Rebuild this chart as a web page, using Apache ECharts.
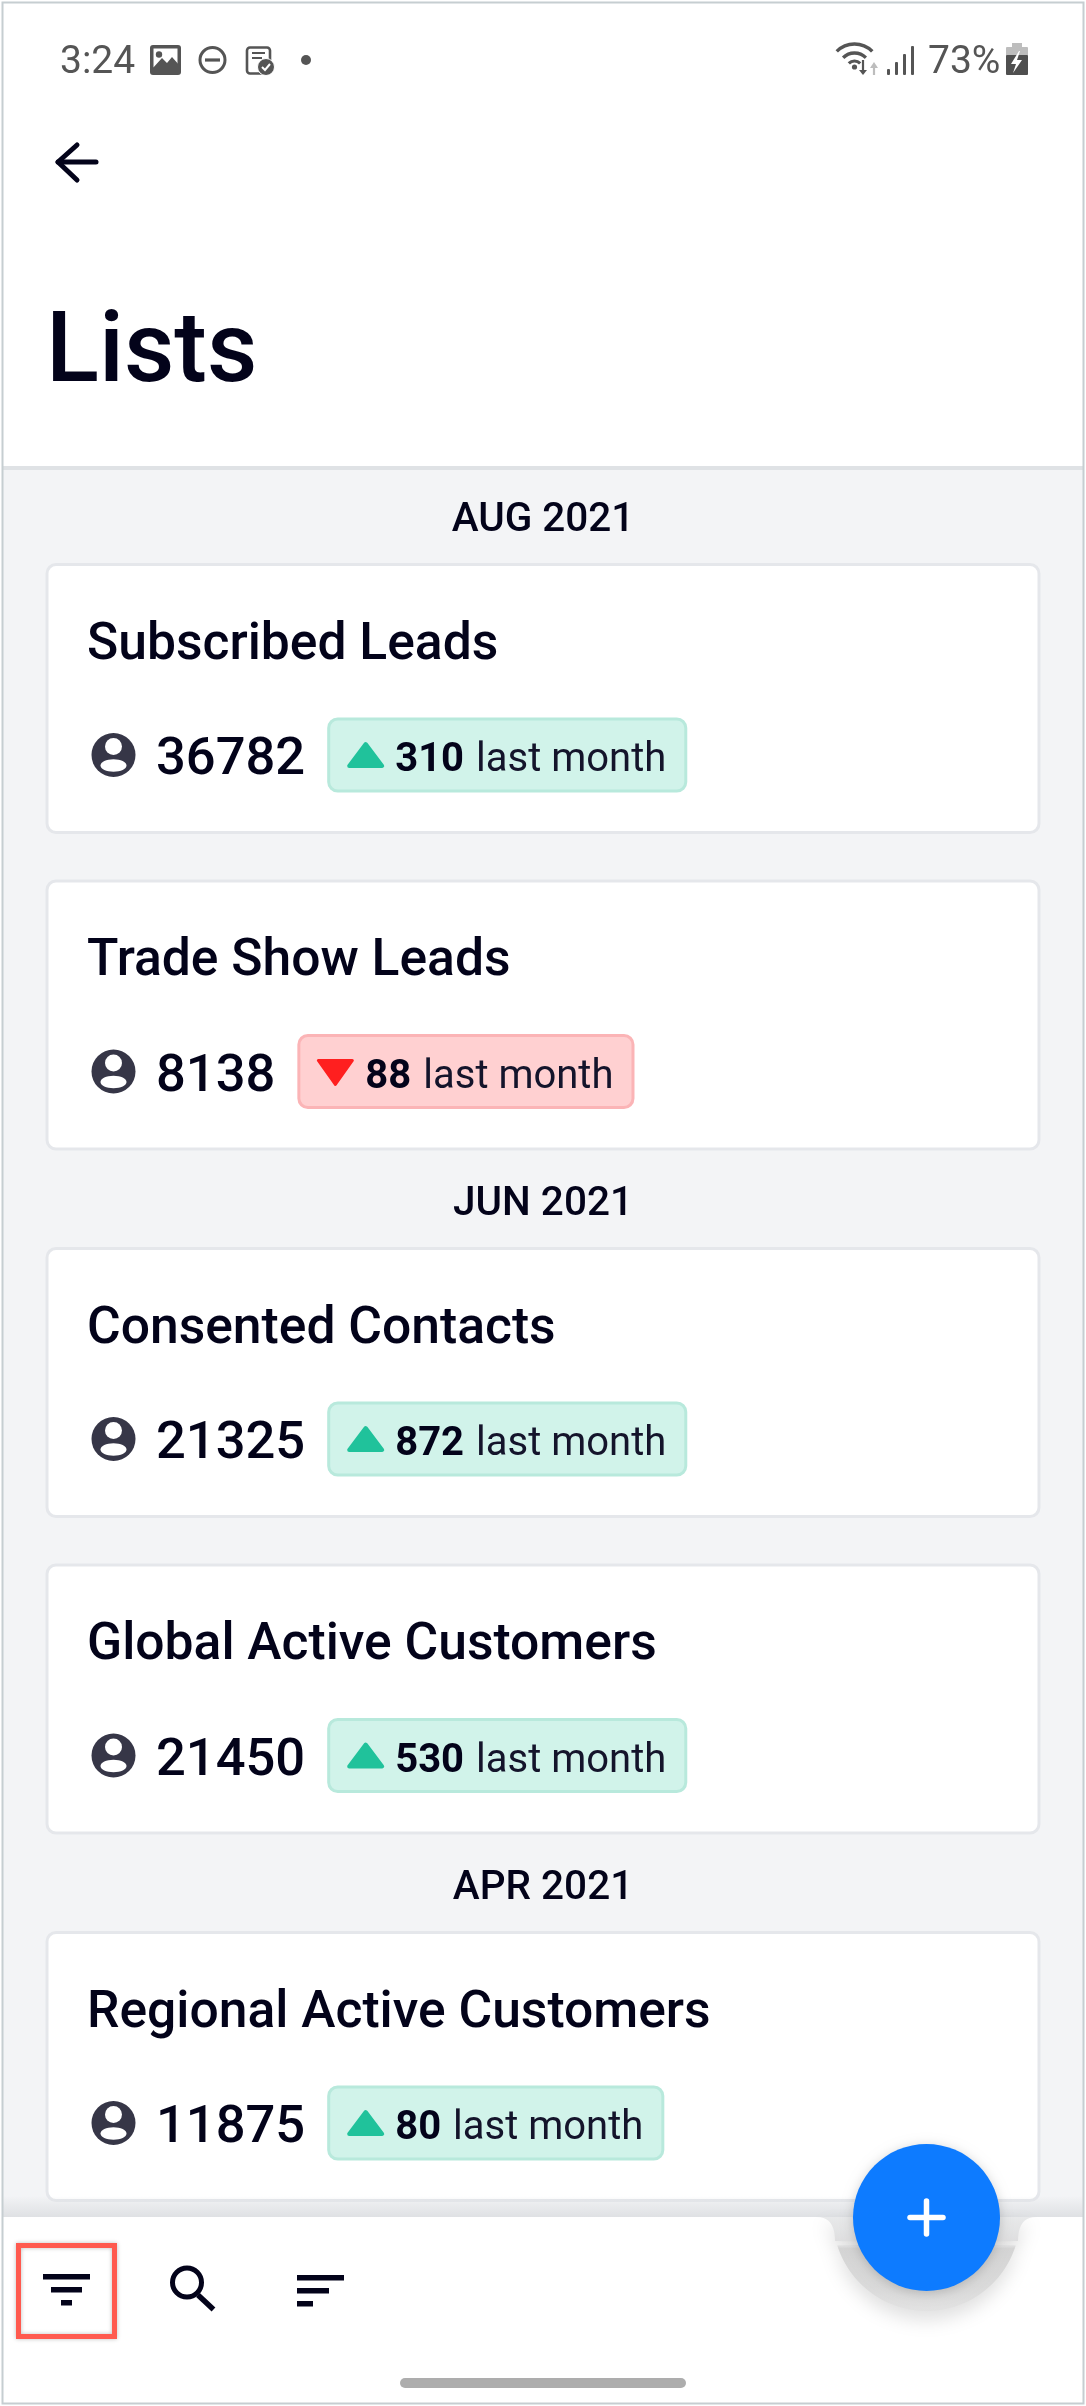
<!DOCTYPE html>
<html>
<head>
<meta charset="utf-8">
<style>html,body{margin:0;padding:0;background:#fff}#chart{width:1086px;height:2406px}</style>
<script src="https://cdn.jsdelivr.net/npm/echarts@6/dist/echarts.min.js"></script>
</head>
<body>
<div id="chart"></div>
<script>
var pageTitle = 'Lists';
var statusTime = '3:24';
var statusBattery = '73%';
var sectionLabels = ['AUG 2021', 'JUN 2021', 'APR 2021'];
var listNames = ['Subscribed Leads', 'Trade Show Leads', 'Consented Contacts', 'Global Active Customers', 'Regional Active Customers'];
var listSections = [0, 0, 1, 1, 2];
var listCounts = [36782, 8138, 21325, 21450, 11875];
var listDeltas = [310, -88, 872, 530, 80];
var deltaSuffix = 'last month';

var INK = '#03031a', FONT = 'Roboto, sans-serif';
var els = [];
var measureCtx = document.createElement('canvas').getContext('2d');
function fontOf(size, weight) { return (weight || 400) + ' ' + size + 'px ' + FONT; }
function widthOf(str, size, weight) { measureCtx.font = fontOf(size, weight); return measureCtx.measureText(str).width; }
function rect(x, y, w, h, fill, r, extra) {
  els.push({ type: 'rect', shape: { x: x, y: y, width: w, height: h, r: r || 0 }, style: Object.assign({ fill: fill }, extra || {}) });
}
function circle(cx, cy, r, style) { els.push({ type: 'circle', shape: { cx: cx, cy: cy, r: r }, style: style }); }
function ellipse(cx, cy, rx, ry, fill) { els.push({ type: 'ellipse', shape: { cx: cx, cy: cy, rx: rx, ry: ry }, style: { fill: fill } }); }
function poly(points, fill, extra) { els.push({ type: 'polygon', shape: { points: points }, style: Object.assign({ fill: fill }, extra || {}) }); }
function line(x1, y1, x2, y2, color, w, cap) {
  els.push({ type: 'line', shape: { x1: x1, y1: y1, x2: x2, y2: y2 }, style: { stroke: color, lineWidth: w, lineCap: cap || 'butt' } });
}
function arc(cx, cy, r, a0, a1, color, w) {
  els.push({ type: 'arc', shape: { cx: cx, cy: cy, r: r, startAngle: a0, endAngle: a1, clockwise: true }, style: { stroke: color, lineWidth: w, fill: null } });
}
function text(str, x, y, size, weight, color, align) {
  els.push({ type: 'text', x: x, y: y, style: { text: str, font: fontOf(size, weight), fill: color, textAlign: align || 'left', textVerticalAlign: 'middle', verticalAlign: 'middle' } });
}

/* page background */
rect(0, 0, 1086, 2406, '#ffffff');
rect(3, 468, 1080, 1760, '#f3f4f6');
rect(3, 466, 1080, 4, '#dfe2e5');

/* cards flow */
var cardH = 271, cardGap = 45.5, lastSection = -1, cardTop = 0;
listNames.forEach(function (name, i) {
  if (listSections[i] !== lastSection) {
    lastSection = listSections[i];
    var headerY = i === 0 ? 516.5 : cardTop + cardH + 50;
    text(sectionLabels[lastSection], 543, headerY + 4, 40.5, 500, INK, 'center');
    cardTop = headerY + 46.5;
  } else {
    cardTop += cardH + cardGap;
  }
  rect(47, cardTop + 1.5, 992, cardH - 3, '#ffffff', 9, { stroke: '#e5e7eb', lineWidth: 3 });
  text(name, 87, cardTop + 83, 51.6, 500, INK);
  var rowY = cardTop + 192;
  circle(113.5, rowY, 22, { fill: '#363647' });
  circle(113.5, rowY - 8.5, 8.5, { fill: '#ffffff' });
  ellipse(113.5, rowY + 10.5, 13, 6.2, '#ffffff');
  var countStr = String(listCounts[i]);
  text(countStr, 156, rowY + 6, 52.5, 500, INK);
  var up = listDeltas[i] >= 0;
  var bx = 156 + widthOf(countStr, 52.5, 500) + 22;
  var deltaStr = String(Math.abs(listDeltas[i]));
  var dw = widthOf(deltaStr, 40, 700);
  var sw = widthOf(deltaSuffix, 40, 400);
  var bw = 68 + dw + 12 + sw + 21;
  rect(bx + 1.5, rowY - 36, bw - 3, 72, up ? '#d1f3ea' : '#ffd0d1', 9, { stroke: up ? '#b8e9dc' : '#fbb4b6', lineWidth: 3 });
  if (up) {
    poly([[bx + 38.5, rowY - 11], [bx + 55, rowY + 11], [bx + 22, rowY + 11]], '#20c29b', { stroke: '#20c29b', lineWidth: 4, lineJoin: 'round' });
  } else {
    poly([[bx + 21, rowY - 11], [bx + 55, rowY - 11], [bx + 38, rowY + 13]], '#ff1f1f', { stroke: '#ff1f1f', lineWidth: 3, lineJoin: 'round' });
  }
  text(deltaStr, bx + 68, rowY + 6, 40, 700, INK);
  text(deltaSuffix, bx + 68 + dw + 12, rowY + 6, 40, 400, '#14142b');
});

/* status bar */
var STATUS = '#555555';
text(statusTime, 60, 63.5, 39, 400, STATUS);
rect(150, 45, 31, 30, STATUS, 3);
rect(153.5, 48.5, 24, 19, '#ffffff');
circle(159, 54.5, 3.2, { fill: STATUS });
poly([[152, 69], [162, 58], [167, 63], [172, 57], [180, 66], [180, 72], [152, 72]], STATUS);
circle(212.5, 60, 12.5, { fill: 'none', stroke: STATUS, lineWidth: 3 });
line(205, 60, 220, 60, STATUS, 3.2);
rect(247, 47.5, 23, 26, '#ffffff', 3, { stroke: STATUS, lineWidth: 2.6 });
line(252, 53, 265, 53, STATUS, 2);
line(252, 58, 262, 58, STATUS, 2);
circle(266, 67, 8.5, { fill: STATUS, stroke: '#ffffff', lineWidth: 1 });
els.push({ type: 'polyline', shape: { points: [[262, 67], [265, 70], [270, 64]] }, style: { stroke: '#ffffff', lineWidth: 2, fill: null } });
circle(306, 60, 5, { fill: STATUS });

arc(854.5, 69, 25, -2.36, -0.78, STATUS, 3.4);
arc(854.5, 69, 16, -2.36, -0.78, STATUS, 3.4);
arc(854.5, 69, 8, -2.36, -0.78, STATUS, 3.2);
circle(854.5, 67, 2.6, { fill: STATUS });
line(863, 60, 863, 72, STATUS, 2.2);
poly([[859, 70], [867, 70], [863, 75]], STATUS);
line(874, 66, 874, 75, '#bdbdbd', 2.2);
poly([[870, 68], [878, 68], [874, 62]], '#bdbdbd');
rect(887, 69, 3, 6, STATUS, 1);
rect(895, 62, 3, 13, STATUS, 1);
rect(903, 54, 3, 21, STATUS, 1);
rect(911, 46, 3, 29, STATUS, 1);
text(statusBattery, 928, 63.5, 39, 400, STATUS);
rect(1012, 43, 10, 5, '#bdbdbd');
rect(1006, 47, 22, 9, '#bdbdbd', 1);
rect(1006, 55, 22, 20, '#4f4f4f', 1);
poly([[1019, 51], [1011, 64], [1016, 64], [1013, 73], [1022, 60], [1017, 60], [1020, 51]], '#ffffff');

/* back arrow */
line(58, 162, 96, 162, INK, 5, 'round');
els.push({ type: 'polyline', shape: { points: [[77, 145], [58, 162], [77, 180]] }, style: { stroke: INK, lineWidth: 5, lineCap: 'round', lineJoin: 'round', fill: null } });

/* page title */
text(pageTitle, 46, 356.5, 98, 500, INK);

/* bottom bar */
rect(3, 2196, 1080, 21, { type: 'linear', x: 0, y: 0, x2: 0, y2: 1, colorStops: [{ offset: 0, color: 'rgba(220,222,225,0)' }, { offset: 1, color: '#dfe1e4' }] });
rect(3, 2217, 1080, 186, '#ffffff');

var FAB_X = 926.5, FAB_Y = 2217.5, notchR = 93.5;
function notchPoints() {
  var pts = [], n, t;
  for (n = 0; n <= 10; n++) {
    t = n / 10;
    pts.push([817 + (835 - 817) * (1 - (1 - t) * (1 - t)), 2217 + 24 * t * t]);
  }
  var a0 = Math.asin(24 / notchR), a1 = Math.PI - a0;
  for (n = 1; n < 60; n++) {
    var a = a0 + (a1 - a0) * n / 60;
    pts.push([FAB_X + notchR * Math.cos(a), FAB_Y + notchR * Math.sin(a)]);
  }
  for (n = 10; n >= 0; n--) {
    t = n / 10;
    pts.push([1036 - (1036 - 1018) * (1 - (1 - t) * (1 - t)), 2217 + 24 * t * t]);
  }
  return pts;
}
poly(notchPoints(), {
  type: 'linear', x: 0, y: 0, x2: 0, y2: 1,
  colorStops: [{ offset: 0, color: '#e8e9ea' }, { offset: 0.32, color: '#dcdcdd' }, { offset: 0.33, color: '#d4d4d4' }, { offset: 0.75, color: '#dadada' }, { offset: 1, color: '#e2e2e2' }]
}, { shadowBlur: 18, shadowColor: 'rgba(0,0,0,0.12)', shadowOffsetY: 9 });
circle(FAB_X, FAB_Y, 73.5, { fill: '#0d7bff', shadowBlur: 12, shadowColor: 'rgba(0,0,0,0.18)', shadowOffsetY: 2 });
line(910, 2217.5, 943, 2217.5, '#ffffff', 5.5, 'round');
line(926.5, 2201, 926.5, 2234, '#ffffff', 5.5, 'round');

/* filter icon in highlighted box */
rect(18.5, 2245.5, 96, 91, 'none', 0, { stroke: '#ff5a4f', lineWidth: 5, shadowBlur: 4, shadowColor: 'rgba(0,0,0,0.25)' });
rect(43, 2274, 47, 5.5, INK);
rect(51, 2287, 31, 5.5, INK);
rect(61, 2300, 11, 5.5, INK);
/* search icon */
circle(187, 2282.5, 14.5, { fill: 'none', stroke: INK, lineWidth: 5 });
line(198, 2295, 213.5, 2309.5, INK, 5.5);
/* sort icon */
rect(297, 2275, 47, 5.5, INK);
rect(297, 2288, 32, 5.5, INK);
rect(297, 2301, 16, 5.5, INK);
/* home pill */
rect(400, 2378, 286, 10, '#adadad', 5);

/* frame */
rect(2.5, 2.5, 1081, 2401, 'none', 0, { stroke: '#c6ced1', lineWidth: 2 });

var chart = echarts.init(document.getElementById('chart'));
chart.setOption({
  animation: false,
  backgroundColor: '#ffffff',
  graphic: { elements: els.map(function (e) { e.silent = true; return e; }) }
});
</script>
</body>
</html>
